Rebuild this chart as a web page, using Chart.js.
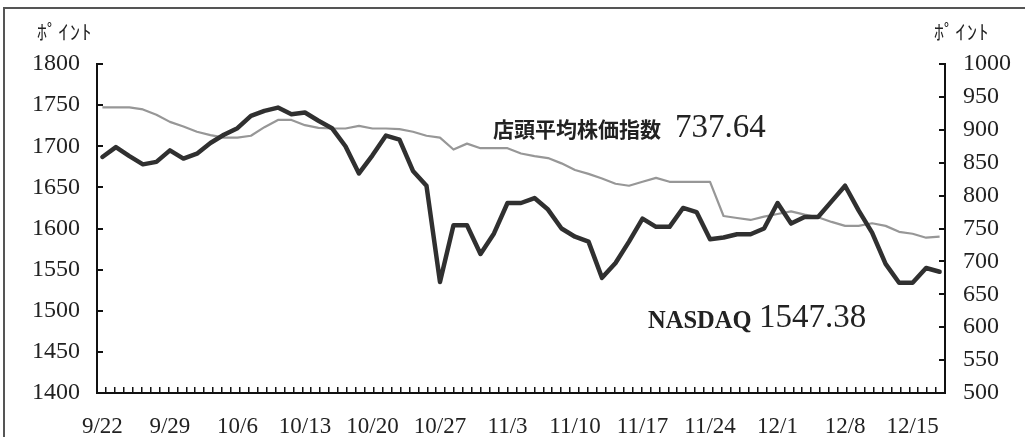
<!DOCTYPE html>
<html lang="ja">
<head>
<meta charset="utf-8">
<title>NASDAQ と店頭平均株価指数</title>
<script src="https://cdn.jsdelivr.net/npm/chart.js@4.4.1/dist/chart.umd.min.js"></script>
<style>
  html, body { margin: 0; padding: 0; background: #fff; }
  #wrap { position: relative; width: 1025px; height: 437px; overflow: hidden; }
  #frame { position: absolute; left: 3px; top: 7px; right: -10px; bottom: -10px;
           border-top: 2px solid #555; border-left: 2px solid #555; }
  canvas { position: absolute; left: 0; top: 0; }
  .unit { position: absolute; font-family: "Noto Sans CJK JP", sans-serif; font-size: 20px;
          line-height: 20px; letter-spacing: 1.5px; color: #222; white-space: nowrap; }
  .name { position: absolute; font-family: "Noto Sans CJK JP", sans-serif; font-weight: 700;
          font-size: 21px; line-height: 21px; color: #222; white-space: nowrap; }
  .tag  { position: absolute; font-family: "Liberation Serif", serif; font-weight: 700;
          font-size: 24.5px; line-height: 24px; color: #222; white-space: nowrap; }
  .num  { position: absolute; font-family: "Liberation Serif", serif; font-size: 33px;
          line-height: 33px; color: #222; white-space: nowrap; }
</style>
</head>
<body>
<div id="wrap">
  <canvas id="chart" width="1025" height="437"></canvas>
  <div id="frame"></div>
  <div class="unit" style="left:37px;top:22px">ﾎﾟｲﾝﾄ</div>
  <div class="unit" style="left:934px;top:22px">ﾎﾟｲﾝﾄ</div>
  <div class="name" style="left:493px;top:118px">店頭平均株価指数</div>
  <div class="num"  style="left:675px;top:110px">737.64</div>
  <div class="tag"  style="left:648px;top:308px">NASDAQ</div>
  <div class="num"  style="left:759px;top:300px">1547.38</div>
</div>
<script>
// trading days, one point each (Thanksgiving carried flat)
const dates = [
  "9/22","9/23","9/24","9/25","9/26",
  "9/29","9/30","10/1","10/2","10/3",
  "10/6","10/7","10/8","10/9","10/10",
  "10/13","10/14","10/15","10/16","10/17",
  "10/20","10/21","10/22","10/23","10/24",
  "10/27","10/28","10/29","10/30","10/31",
  "11/3","11/4","11/5","11/6","11/7",
  "11/10","11/11","11/12","11/13","11/14",
  "11/17","11/18","11/19","11/20","11/21",
  "11/24","11/25","11/26","11/27","11/28",
  "12/1","12/2","12/3","12/4","12/5",
  "12/8","12/9","12/10","12/11","12/12",
  "12/15","12/16","12/17"
];

// NASDAQ (left axis)
const nasdaq = [
  1687, 1699, 1688, 1678, 1681,
  1695, 1685, 1691, 1704, 1714,
  1722, 1737, 1743, 1747, 1739,
  1741, 1731, 1722, 1700, 1667,
  1689, 1713, 1708, 1670, 1652,
  1535, 1604, 1604, 1569, 1594,
  1631, 1631, 1637, 1623, 1600,
  1590, 1584, 1540, 1558, 1584,
  1612, 1602, 1602, 1625, 1620,
  1587, 1589, 1593, 1593, 1600,
  1631, 1606, 1614, 1614, 1633,
  1652, 1622, 1595, 1557, 1534,
  1534, 1552, 1547.38
];

// 店頭平均株価指数 (right axis)
const otc = [
  934, 934, 934, 931, 923,
  912, 905, 897, 892, 888,
  888, 891, 904, 915, 915,
  907, 903, 902, 902, 906,
  902, 902, 901, 897, 891,
  888, 870, 879, 872, 872,
  872, 864, 860, 857, 849,
  839, 833, 826, 818, 815,
  821, 827, 821, 821, 821,
  821, 769, 766, 763, 768,
  772, 776, 771, 767, 760,
  754, 754, 758, 754, 745,
  742, 736, 737.64
];

const weekLabels = ["9/22","9/29","10/6","10/13","10/20","10/27","11/3","11/10","11/17","11/24","12/1","12/8","12/15"];
const leftTicks  = [1400, 1450, 1500, 1550, 1600, 1650, 1700, 1750, 1800];
const rightTicks = [500, 550, 600, 650, 700, 750, 800, 850, 900, 950, 1000];

(function () {
  const INK = "#111";
  const SERIF = "'Liberation Serif', 'Times New Roman', serif";
  const MINOR_TICKS = 95;   // small marks along the bottom axis
  const toXY = arr => arr.map((v, i) => ({ x: i, y: v }));
  const fixTicks = list => s => { s.ticks = list.map(v => ({ value: v })); };

  const yAxis = (pos, list, width, pad) => ({
    type: "linear",
    position: pos,
    min: list[0],
    max: list[list.length - 1],
    afterBuildTicks: fixTicks(list),
    afterFit: s => { s.width = width; },
    border: { display: true, color: INK, width: 2 },
    grid: { drawOnChartArea: false, drawTicks: true, tickLength: -6, color: INK, lineWidth: 2 },
    ticks: { padding: pad, color: "#222", font: { family: SERIF, size: 24 }, callback: v => String(v) }
  });

  new Chart(document.getElementById("chart"), {
    type: "line",
    data: {
      datasets: [
        { label: "NASDAQ", data: toXY(nasdaq), yAxisID: "y",
          borderColor: "#303030", borderWidth: 4.5, borderJoinStyle: "round", borderCapStyle: "round",
          pointRadius: 0, tension: 0, fill: false },
        { label: "店頭平均株価指数", data: toXY(otc), yAxisID: "y1",
          borderColor: "#979797", borderWidth: 2.2, borderJoinStyle: "round",
          pointRadius: 0, tension: 0, fill: false }
      ]
    },
    options: {
      responsive: false,
      animation: false,
      devicePixelRatio: 1,
      layout: { padding: { top: 64, left: 0, right: 0, bottom: 0 } },
      plugins: { legend: { display: false }, tooltip: { enabled: false } },
      scales: {
        x: {
          type: "linear",
          position: "bottom",
          weight: 1,
          bounds: "data",
          min: -0.4,
          max: dates.length - 0.6,
          afterBuildTicks: s => { s.ticks = weekLabels.map(l => ({ value: dates.indexOf(l) })); },
          afterFit: s => { s.height = 44; },
          border: { display: false },
          grid: { display: false, drawTicks: false },
          ticks: { padding: 20, autoSkip: false, maxRotation: 0, color: "#222",
                   font: { family: SERIF, size: 23 }, callback: v => dates[v] ?? "" }
        },
        xMinor: {
          type: "linear",
          position: "bottom",
          weight: 0,
          min: 0,
          max: MINOR_TICKS,
          afterFit: s => { s.height = 0; },
          border: { display: true, color: INK, width: 2 },
          grid: { drawOnChartArea: false, drawTicks: true, tickLength: -6, color: INK, lineWidth: 1.5 },
          ticks: { display: false, stepSize: 1 }
        },
        y: yAxis("left", leftTicks, 97, 23),
        y1: yAxis("right", rightTicks, 80, 24)
      }
    }
  });
})();
</script>
</body>
</html>
